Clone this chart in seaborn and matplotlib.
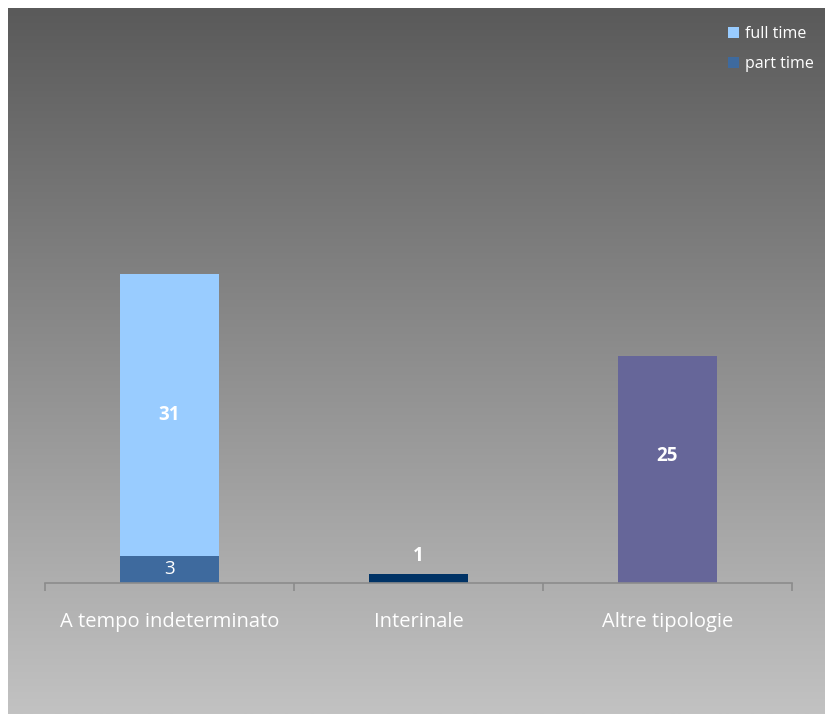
import numpy as np
import pandas as pd
import matplotlib
matplotlib.use("Agg")
import matplotlib.pyplot as plt
from matplotlib.colors import LinearSegmentedColormap
from matplotlib.patches import Patch
import seaborn as sns

categories = ["A tempo indeterminato", "Interinale", "Altre tipologie"]
part_time = [3, 1, 25]
full_time = [31, 0, 0]
part_colors = ["#3e6a9e", "#003366", "#666699"]
full_color = "#99ccff"

sns.set_theme(style="white")
plt.rcParams["font.family"] = ["Open Sans", "DejaVu Sans"]

df = pd.DataFrame({"categoria": categories,
                   "part": part_time,
                   "full": full_time})
df["totale"] = df["part"] + df["full"]

fig = plt.figure(figsize=(8.25, 7.14), dpi=100, facecolor="white")

# grey vertical gradient panel behind the chart
bg = fig.add_axes([8 / 825, 0, 817 / 825, 706 / 714], zorder=0)
grad = np.linspace(0, 1, 256).reshape(-1, 1)
cmap = LinearSegmentedColormap.from_list("bg", ["#5a5a5a", "#c2c2c2"])
bg.imshow(grad, aspect="auto", cmap=cmap, extent=[0, 1, 1, 0])
bg.set_axis_off()

ax = fig.add_axes([45 / 825, 131 / 714, 747 / 825, 575 / 714], zorder=1)
ax.set_facecolor("none")

# stacked columns: totals in full-time colour, part time drawn over them
sns.barplot(data=df, x="categoria", y="totale", color=full_color,
            width=0.4, saturation=1, ax=ax, order=categories,
            linewidth=0, edgecolor="none")
sns.barplot(data=df, x="categoria", y="part", hue="categoria",
            palette=part_colors, width=0.4, saturation=1, ax=ax,
            order=categories, hue_order=categories, legend=False,
            linewidth=0, edgecolor="none")

ax.set_xlim(-0.5, 2.5)
ax.set_ylim(0, 63.2)
ax.set_xlabel("")
ax.set_ylabel("")
ax.set_yticks([])
for s in ["top", "right", "left"]:
    ax.spines[s].set_visible(False)
ax.spines["bottom"].set_color("#8c8c8c")
ax.spines["bottom"].set_linewidth(1.2)

ax.set_xticks([0, 1, 2])
ax.set_xticklabels(categories, color="white", fontsize=14.5)
ax.tick_params(axis="x", which="major", length=0, pad=21)
ax.set_xticks([-0.5, 0.5, 1.5, 2.5], minor=True)
ax.tick_params(axis="x", which="minor", length=6, width=1.2,
               color="#8c8c8c", direction="out", bottom=True)

# value labels
lbl = dict(color="white", ha="center", va="center", fontsize=13.5)
ax.text(0, part_time[0] / 2, str(part_time[0]), **lbl)
ax.text(0, part_time[0] + full_time[0] / 2, str(full_time[0]),
        fontweight="bold", **lbl)
ax.text(1, part_time[1] + 2, str(part_time[1]), fontweight="bold", **lbl)
ax.text(2, part_time[2] / 2 + 1.5, str(part_time[2]), fontweight="bold", **lbl)

handles = [Patch(facecolor=full_color, edgecolor="none", label="full time"),
           Patch(facecolor=part_colors[0], edgecolor="none", label="part time")]
leg = fig.legend(handles=handles, loc="upper right",
                 bbox_to_anchor=(820 / 825, 1 - 20 / 714), frameon=False,
                 handlelength=0.7, handleheight=0.7, handletextpad=0.35,
                 labelspacing=0.85, fontsize=11.5, borderaxespad=0)
for t in leg.get_texts():
    t.set_color("white")

fig.savefig("out.png", dpi=100, facecolor="white")
